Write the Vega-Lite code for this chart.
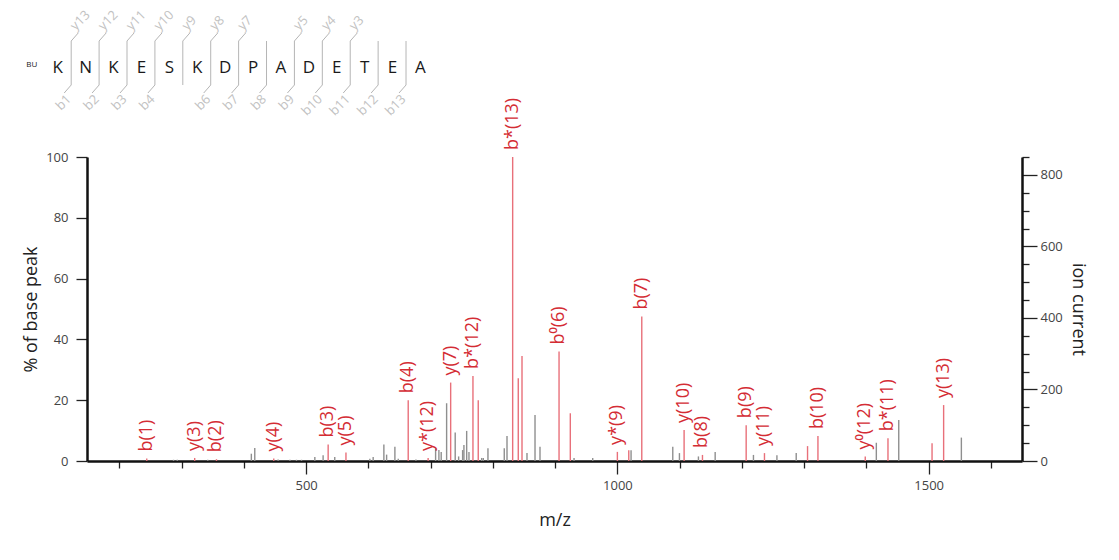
{
  "$schema": "https://vega.github.io/schema/vega-lite/v6.json",
  "width": 935,
  "height": 304,
  "autosize": {"type": "none"},
  "padding": {"left": 87, "top": 157, "right": 97, "bottom": 99},
  "background": "white",
  "config": {
    "view": {"stroke": null},
    "font": "Open Sans",
    "axis": {
      "grid": false,
      "domainColor": "#111111",
      "domainWidth": 2.5,
      "tickColor": "#222222",
      "tickWidth": 1.3,
      "labelColor": "#444444",
      "labelFontSize": 13,
      "labelFont": "Open Sans",
      "labelOverlap": false,
      "labelFlush": false,
      "titleFont": "Open Sans",
      "titleFontSize": 18,
      "titleFontWeight": "normal",
      "titleColor": "#222222"
    }
  },
  "datasets": {
    "peaks": [
      {"mz": 244, "pct": 0.8, "ion": "b(1)", "status": "matched"},
      {"mz": 287, "pct": 0.4, "ion": null, "status": "unmatched"},
      {"mz": 293, "pct": 0.4, "ion": null, "status": "unmatched"},
      {"mz": 321, "pct": 1.0, "ion": "y(3)", "status": "matched"},
      {"mz": 342, "pct": 0.4, "ion": null, "status": "unmatched"},
      {"mz": 356, "pct": 0.6, "ion": "b(2)", "status": "matched"},
      {"mz": 412, "pct": 2.4, "ion": null, "status": "unmatched"},
      {"mz": 417.5, "pct": 4.3, "ion": null, "status": "unmatched"},
      {"mz": 448, "pct": 0.8, "ion": "y(4)", "status": "matched"},
      {"mz": 455, "pct": 0.5, "ion": null, "status": "unmatched"},
      {"mz": 474, "pct": 0.4, "ion": null, "status": "unmatched"},
      {"mz": 484.5, "pct": 0.4, "ion": null, "status": "unmatched"},
      {"mz": 492.6, "pct": 0.4, "ion": null, "status": "unmatched"},
      {"mz": 514, "pct": 1.3, "ion": null, "status": "unmatched"},
      {"mz": 527.3, "pct": 1.9, "ion": null, "status": "unmatched"},
      {"mz": 535.4, "pct": 5.4, "ion": "b(3)", "status": "matched"},
      {"mz": 546, "pct": 1.3, "ion": null, "status": "unmatched"},
      {"mz": 564, "pct": 2.8, "ion": "y(5)", "status": "matched"},
      {"mz": 602.4, "pct": 0.7, "ion": null, "status": "unmatched"},
      {"mz": 607.7, "pct": 1.3, "ion": null, "status": "unmatched"},
      {"mz": 624.9, "pct": 5.4, "ion": null, "status": "unmatched"},
      {"mz": 629.3, "pct": 2.1, "ion": null, "status": "unmatched"},
      {"mz": 642.6, "pct": 4.7, "ion": null, "status": "unmatched"},
      {"mz": 648, "pct": 0.7, "ion": null, "status": "unmatched"},
      {"mz": 664, "pct": 20, "ion": "b(4)", "status": "matched"},
      {"mz": 676.4, "pct": 0.5, "ion": null, "status": "unmatched"},
      {"mz": 696, "pct": 1.0, "ion": "y*(12)", "status": "matched"},
      {"mz": 708, "pct": 4.2, "ion": null, "status": "unmatched"},
      {"mz": 713.3, "pct": 3.6, "ion": null, "status": "unmatched"},
      {"mz": 717, "pct": 3.0, "ion": null, "status": "unmatched"},
      {"mz": 725.7, "pct": 19, "ion": null, "status": "unmatched"},
      {"mz": 732.2, "pct": 25.8, "ion": "y(7)", "status": "matched"},
      {"mz": 739.5, "pct": 9.4, "ion": null, "status": "unmatched"},
      {"mz": 745, "pct": 1.5, "ion": null, "status": "unmatched"},
      {"mz": 751.4, "pct": 3.6, "ion": null, "status": "unmatched"},
      {"mz": 753.5, "pct": 5.3, "ion": null, "status": "unmatched"},
      {"mz": 757.9, "pct": 9.9, "ion": null, "status": "unmatched"},
      {"mz": 761.6, "pct": 3.0, "ion": null, "status": "unmatched"},
      {"mz": 768, "pct": 28, "ion": "b*(12)", "status": "matched"},
      {"mz": 776.5, "pct": 20, "ion": null, "status": "matched"},
      {"mz": 782, "pct": 1.0, "ion": null, "status": "unmatched"},
      {"mz": 784.6, "pct": 1.0, "ion": null, "status": "unmatched"},
      {"mz": 792.1, "pct": 4.2, "ion": null, "status": "unmatched"},
      {"mz": 818.3, "pct": 4.2, "ion": null, "status": "unmatched"},
      {"mz": 822.7, "pct": 8.2, "ion": null, "status": "unmatched"},
      {"mz": 831.8, "pct": 100, "ion": "b*(13)", "status": "matched"},
      {"mz": 840.8, "pct": 27.2, "ion": null, "status": "matched"},
      {"mz": 846.8, "pct": 34.5, "ion": null, "status": "matched"},
      {"mz": 854.8, "pct": 2.6, "ion": null, "status": "unmatched"},
      {"mz": 867.7, "pct": 15.1, "ion": null, "status": "unmatched"},
      {"mz": 875.7, "pct": 4.7, "ion": null, "status": "unmatched"},
      {"mz": 906.3, "pct": 36, "ion": "b⁰(6)", "status": "matched"},
      {"mz": 924.4, "pct": 15.7, "ion": null, "status": "matched"},
      {"mz": 930.4, "pct": 1.0, "ion": null, "status": "unmatched"},
      {"mz": 960.4, "pct": 1.0, "ion": null, "status": "unmatched"},
      {"mz": 1000, "pct": 3.0, "ion": "y*(9)", "status": "matched"},
      {"mz": 1018.3, "pct": 3.5, "ion": null, "status": "matched"},
      {"mz": 1022, "pct": 3.5, "ion": null, "status": "unmatched"},
      {"mz": 1039.2, "pct": 47.5, "ion": "b(7)", "status": "matched"},
      {"mz": 1089, "pct": 4.7, "ion": null, "status": "unmatched"},
      {"mz": 1099.7, "pct": 2.6, "ion": null, "status": "unmatched"},
      {"mz": 1107.2, "pct": 10.2, "ion": "y(10)", "status": "matched"},
      {"mz": 1130.2, "pct": 1.5, "ion": null, "status": "unmatched"},
      {"mz": 1136.7, "pct": 2.0, "ion": "b(8)", "status": "matched"},
      {"mz": 1157.1, "pct": 3.0, "ion": null, "status": "unmatched"},
      {"mz": 1206.9, "pct": 11.8, "ion": "b(9)", "status": "matched"},
      {"mz": 1218.6, "pct": 2.0, "ion": null, "status": "unmatched"},
      {"mz": 1236.3, "pct": 2.6, "ion": "y(11)", "status": "matched"},
      {"mz": 1256.3, "pct": 1.9, "ion": null, "status": "unmatched"},
      {"mz": 1287.3, "pct": 2.6, "ion": null, "status": "unmatched"},
      {"mz": 1305.5, "pct": 4.9, "ion": null, "status": "matched"},
      {"mz": 1322.2, "pct": 8.2, "ion": "b(10)", "status": "matched"},
      {"mz": 1398.2, "pct": 1.5, "ion": "y⁰(12)", "status": "matched"},
      {"mz": 1416, "pct": 6.0, "ion": null, "status": "unmatched"},
      {"mz": 1434.7, "pct": 7.5, "ion": "b*(11)", "status": "matched"},
      {"mz": 1452, "pct": 13.5, "ion": null, "status": "unmatched"},
      {"mz": 1505.5, "pct": 5.8, "ion": null, "status": "matched"},
      {"mz": 1524.1, "pct": 18.4, "ion": "y(13)", "status": "matched"},
      {"mz": 1552.6, "pct": 7.7, "ion": null, "status": "unmatched"}
    ],
    "residues": [
      {"pos": 1, "aa": "K"}, {"pos": 2, "aa": "N"}, {"pos": 3, "aa": "K"},
      {"pos": 4, "aa": "E"}, {"pos": 5, "aa": "S"}, {"pos": 6, "aa": "K"},
      {"pos": 7, "aa": "D"}, {"pos": 8, "aa": "P"}, {"pos": 9, "aa": "A"},
      {"pos": 10, "aa": "D"}, {"pos": 11, "aa": "E"}, {"pos": 12, "aa": "T"},
      {"pos": 13, "aa": "E"}, {"pos": 14, "aa": "A"}
    ],
    "sites": [
      {"site": 1, "yIon": "y13", "bIon": "b1"},
      {"site": 2, "yIon": "y12", "bIon": "b2"},
      {"site": 3, "yIon": "y11", "bIon": "b3"},
      {"site": 4, "yIon": "y10", "bIon": "b4"},
      {"site": 5, "yIon": "y9", "bIon": null},
      {"site": 6, "yIon": "y8", "bIon": "b6"},
      {"site": 7, "yIon": "y7", "bIon": "b7"},
      {"site": 8, "yIon": null, "bIon": "b8"},
      {"site": 9, "yIon": "y5", "bIon": "b9"},
      {"site": 10, "yIon": "y4", "bIon": "b10"},
      {"site": 11, "yIon": "y3", "bIon": "b11"},
      {"site": 12, "yIon": null, "bIon": "b12"},
      {"site": 13, "yIon": null, "bIon": "b13"}
    ],
    "tag": [{"pos": 0, "text": "BU"}]
  },
  "layer": [
    {
      "layer": [
        {
          "data": {"name": "peaks"},
          "mark": {"type": "rule", "strokeWidth": 1.4},
          "encoding": {
            "x": {
              "field": "mz", "type": "quantitative",
              "scale": {"domain": [148, 1650], "nice": false, "zero": false},
              "axis": {
                "title": "m/z",
                "values": [200, 300, 400, 500, 600, 700, 800, 900, 1000, 1100, 1200, 1300, 1400, 1500, 1600],
                "format": "d",
                "labelExpr": "datum.value % 500 === 0 ? datum.label : ''",
                "tickSize": {"condition": {"test": "datum.value % 500 === 0", "value": 13}, "value": 7},
                "labelPadding": 5,
                "titlePadding": 19
              }
            },
            "y": {
              "field": "pct", "type": "quantitative",
              "scale": {"domain": [0, 100], "nice": false},
              "axis": {
                "orient": "left",
                "title": "% of base peak",
                "values": [0, 5, 10, 15, 20, 25, 30, 35, 40, 45, 50, 55, 60, 65, 70, 75, 80, 85, 90, 95, 100],
                "labelExpr": "datum.value % 20 === 0 ? datum.label : ''",
                "tickSize": {"condition": {"test": "datum.value % 20 === 0", "value": 11}, "value": 6},
                "labelPadding": 8,
                "titlePadding": 5
              }
            },
            "y2": {"datum": 0},
            "color": {
              "field": "status", "type": "nominal",
              "scale": {"domain": ["matched", "unmatched"], "range": ["#e8707a", "#8f8f8f"]},
              "legend": null
            }
          }
        },
        {
          "data": {"name": "peaks"},
          "transform": [{"filter": "datum.ion != null"}],
          "mark": {
            "type": "text", "angle": 270, "align": "left", "baseline": "middle",
            "dx": 7, "fontSize": 18, "font": "Open Sans", "color": "#d42c34"
          },
          "encoding": {
            "x": {"field": "mz", "type": "quantitative"},
            "y": {"field": "pct", "type": "quantitative"},
            "text": {"field": "ion"}
          }
        }
      ]
    },
    {
      "data": {"values": [{"ion_current": 0}]},
      "mark": {"type": "rule", "strokeOpacity": 0},
      "encoding": {
        "y": {
          "field": "ion_current", "type": "quantitative",
          "scale": {"domain": [0, 850], "nice": false},
          "axis": {
            "orient": "right",
            "title": "ion current",
            "values": [0, 50, 100, 150, 200, 250, 300, 350, 400, 450, 500, 550, 600, 650, 700, 750, 800, 850],
            "labelExpr": "datum.value % 200 === 0 ? datum.label : ''",
            "tickSize": {"condition": {"test": "datum.value % 200 === 0", "value": 15}, "value": 7},
            "labelPadding": 3,
            "titlePadding": 6
          }
        }
      }
    },
    {
      "layer": [
        {
          "data": {"name": "sites"},
          "mark": {"type": "rule", "color": "#b5b5b5", "strokeWidth": 1, "xOffset": 13.5},
          "encoding": {
            "x": {"field": "site", "type": "quantitative", "scale": {"domain": [2.05, 35.56], "nice": false, "zero": false}, "axis": null},
            "y": {"datum": 1, "type": "quantitative", "scale": {"domain": [-8.545, -1.636], "nice": false, "zero": false}, "axis": null},
            "y2": {"datum": 0}
          }
        },
        {
          "data": {"name": "sites"},
          "transform": [{"filter": "datum.yIon != null"}],
          "mark": {"type": "rule", "color": "#b5b5b5", "strokeWidth": 1, "xOffset": 13.5, "x2Offset": 20.5, "y2Offset": -8},
          "encoding": {
            "x": {"field": "site", "type": "quantitative"},
            "x2": {"field": "site"},
            "y": {"datum": 1, "type": "quantitative"},
            "y2": {"datum": 1}
          }
        },
        {
          "data": {"name": "sites"},
          "transform": [{"filter": "datum.bIon != null"}],
          "mark": {"type": "rule", "color": "#b5b5b5", "strokeWidth": 1, "xOffset": 13.5, "x2Offset": 6.5, "y2Offset": 8},
          "encoding": {
            "x": {"field": "site", "type": "quantitative"},
            "x2": {"field": "site"},
            "y": {"datum": 0, "type": "quantitative"},
            "y2": {"datum": 0}
          }
        },
        {
          "data": {"name": "sites"},
          "transform": [{"filter": "datum.yIon != null"}],
          "mark": {"type": "text", "angle": 315, "align": "left", "baseline": "bottom", "xOffset": 20, "yOffset": -8, "fontSize": 13, "font": "Open Sans", "color": "#c2c2c2"},
          "encoding": {
            "x": {"field": "site", "type": "quantitative"},
            "y": {"datum": 1, "type": "quantitative"},
            "text": {"field": "yIon"}
          }
        },
        {
          "data": {"name": "sites"},
          "transform": [{"filter": "datum.bIon != null"}],
          "mark": {"type": "text", "angle": 315, "align": "right", "baseline": "top", "xOffset": 7, "yOffset": 8, "fontSize": 13, "font": "Open Sans", "color": "#c2c2c2"},
          "encoding": {
            "x": {"field": "site", "type": "quantitative"},
            "y": {"datum": 0, "type": "quantitative"},
            "text": {"field": "bIon"}
          }
        },
        {
          "data": {"name": "residues"},
          "mark": {"type": "text", "align": "center", "baseline": "middle", "fontSize": 17, "font": "Open Sans", "color": "#1a1a1a"},
          "encoding": {
            "x": {"field": "pos", "type": "quantitative"},
            "y": {"datum": 0.38, "type": "quantitative"},
            "text": {"field": "aa"}
          }
        },
        {
          "data": {"name": "tag"},
          "mark": {"type": "text", "align": "center", "baseline": "middle", "fontSize": 8, "font": "Open Sans", "color": "#1a1a1a", "xOffset": 2},
          "encoding": {
            "x": {"field": "pos", "type": "quantitative"},
            "y": {"datum": 0.45, "type": "quantitative"},
            "text": {"field": "text"}
          }
        }
      ]
    }
  ],
  "resolve": {"scale": {"x": "independent", "y": "independent"}}
}
